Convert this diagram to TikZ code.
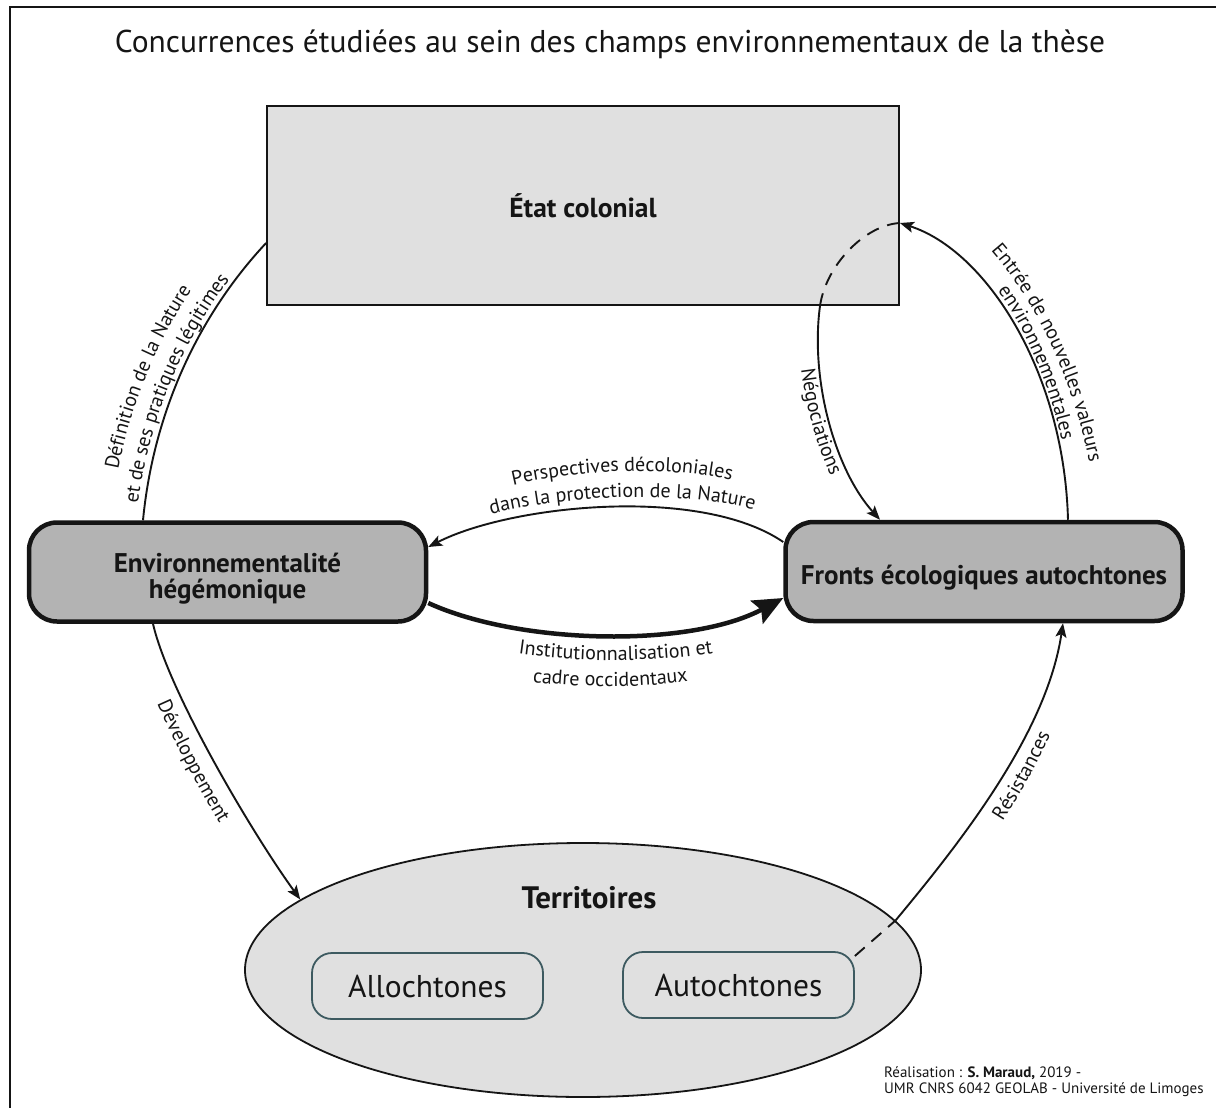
\documentclass[tikz,border=0pt]{standalone}
\usepackage{fontspec}
\setmainfont{PT Sans}
\usetikzlibrary{arrows.meta,decorations.text,shapes.geometric}
\definecolor{lgray}{HTML}{E0E0E0}
\definecolor{mgray}{HTML}{B3B3B3}
\definecolor{ink}{HTML}{151515}
\definecolor{boxline}{HTML}{3D5A60}
\newcommand\lblfont{\fontsize{20}{20}\selectfont}
\begin{document}
\begin{tikzpicture}[x=1pt,y=-1pt,
  conn/.style={draw=ink,line width=1.9pt},
  arr/.style={-{Stealth[length=14pt,width=11pt,inset=3pt]}},
  bigbox/.style={draw=ink,line width=4.5pt,fill=mgray,rounded corners=28pt,minimum width=397pt,minimum height=99pt,inner sep=0pt,align=center,font=\bfseries\fontsize{27}{26}\selectfont,text=ink},
  smallbox/.style={draw=boxline,line width=1.8pt,fill=lgray,rounded corners=20pt,minimum width=231pt,minimum height=66pt,inner sep=0pt,font=\fontsize{31.5}{34}\selectfont,text=ink},
  lbl/.style={decorate,decoration={text along path,text align=center,text color=ink,text={|\lblfont|#1}}}
]
\path[use as bounding box] (0,0) rectangle (1216,1108);
\fill[white] (0,0) rectangle (1216,1108);
\draw[line width=2pt,draw=ink] (10,1108) -- (10,7) -- (1216,7);

\node[font=\fontsize{31.5}{36}\selectfont,text=ink] (title) at (610,44) {Concurrences étudiées au sein des champs environnementaux de la thèse};

\node[draw=ink,line width=1.8pt,fill=lgray,minimum width=632pt,minimum height=199pt,inner sep=0pt,font=\bfseries\fontsize{27.5}{30}\selectfont,text=ink] (col) at (583,205.5) {État colonial};
\node[bigbox] (env) at (227.5,572) {\rule{0pt}{33pt}Environnementalité\\hégémonique};
\node[bigbox] (fro) at (984,571.5) {\rule{0pt}{31pt}Fronts écologiques autochtones};
\node[ellipse,draw=ink,line width=1.8pt,fill=lgray,minimum width=676pt,minimum height=254pt,inner sep=0pt] (ter) at (583,970) {};
\node[font=\bfseries\fontsize{31}{34}\selectfont,text=ink] (terlbl) at (589,898) {Territoires};
\node[smallbox] (allo) at (427.5,986) {Allochtones};
\node[smallbox] (auto) at (738.5,985) {Autochtones};

\node[anchor=north west,align=left,inner sep=0pt,font=\fontsize{15}{16}\selectfont,text=ink] (credit) at (884,1066) {Réalisation : \textbf{S. Maraud,} 2019 -\\UMR CNRS 6042 GEOLAB - Université de Limoges};

% connectors
\draw[conn] ([xshift=-84.5pt]env.north) .. controls (153,416.4) and (195.5,318.6) .. ([yshift=-37.5pt]col.west);
\draw[conn,arr] ([xshift=84pt]fro.north) .. controls (1064,370) and (985,250) .. ([yshift=-17.5pt]col.east);
\draw[conn,dash pattern=on 13pt off 9pt] ([yshift=-17.5pt]col.east) .. controls (865,225) and (826,265) .. ([xshift=237pt]col.south);
\draw[conn,arr] ([xshift=237pt]col.south) .. controls (810,380) and (835,470) .. ([xshift=-104pt]fro.north);
\draw[conn,arr] ([yshift=29.5pt]fro.west) .. controls (700,485) and (510,505) .. ([yshift=25pt]env.east);
\draw[draw=ink,line width=4.5pt,-{Stealth[length=30pt,width=26pt,inset=5pt]}] ([yshift=-31pt]env.east) .. controls (520,645) and (690,648) .. ([yshift=-26.5pt]fro.west);
\draw[conn,arr] ([xshift=-74.5pt]env.south) .. controls (168,690) and (250,830) .. (ter.166);
\draw[conn,dash pattern=on 13pt off 9pt] (auto.14) -- (ter.9);
\draw[conn,arr] (ter.9) .. controls (965,837) and (1047,731) .. ([xshift=79pt]fro.south);

% labels along connectors
\path[lbl={Définition de la Nature}] (109.1,556.3) .. controls (111.3,431.8) and (159.9,312.4) .. (245.5,222.0);
\path[lbl={et de ses pratiques légitimes}] (134.1,556.7) .. controls (136.2,438.4) and (182.4,325.1) .. (263.7,239.2);
\path[lbl={Entrée de nouvelles valeurs}] (912.9,192.6) .. controls (994.9,219.6) and (1096,369) .. (1100,560);
\path[lbl={environnementales}] (905.5,215.4) .. controls (987.5,242.4) and (1072,369.8) .. (1076,560);
\path[lbl={Négociations}] (801,303.1) .. controls (791,378.1) and (821,482.7) .. (866,532.7);
\path[lbl={Perspectives décoloniales}] (462,501) .. controls (542,468) and (702,456) .. (782,498);
\path[lbl={dans la protection de  la Nature}] (452,527) .. controls (532,494) and (712,482) .. (792,524);
\path[lbl={Institutionnalisation et}] (438,635) .. controls (528,668) and (698,670) .. (793,633);
\path[lbl={cadre occidentaux}] (440,662) .. controls (530,694) and (690,696) .. (780,659);
\path[lbl={Développement}] (122,600) .. controls (140.6,695.6) and (227.6,846.8) .. (279.6,914.8);
\path[lbl={Résistances}] (915.8,939.3) .. controls (985.8,854.3) and (1073.7,735.1) .. (1091,595);
\end{tikzpicture}
\end{document}
